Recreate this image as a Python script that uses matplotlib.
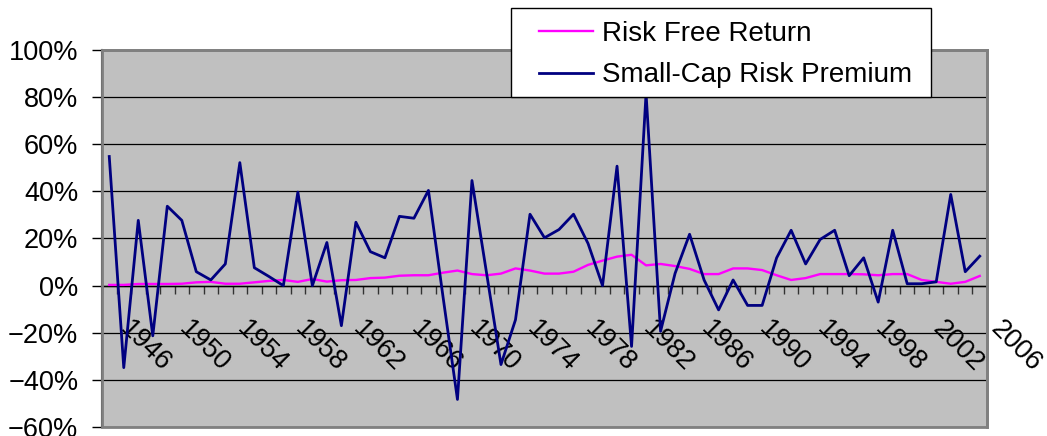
import matplotlib
matplotlib.use("Agg")
import matplotlib.pyplot as plt
from matplotlib.patches import Rectangle
from matplotlib.ticker import PercentFormatter
import numpy as np

plt.rcParams['font.family'] = ['Liberation Sans', 'DejaVu Sans']

years = list(range(1945, 2006))
risk_free = [0.3, 0.3, 0.7, 0.7, 0.7, 0.8, 1.4, 1.6, 0.8, 0.8,
             1.4, 2.0, 2.4, 1.6, 2.8, 1.7, 2.3, 2.4, 3.2, 3.4,
             4.2, 4.4, 4.4, 5.5, 6.4, 4.9, 4.4, 5.1, 7.3, 6.4,
             5.1, 5.1, 5.9, 8.8, 10.6, 12.3, 13.1, 8.6, 9.2, 8.3,
             7.1, 4.9, 4.9, 7.3, 7.3, 6.6, 4.4, 2.4, 3.2, 4.9,
             4.9, 4.9, 4.8, 4.4, 4.9, 4.9, 2.4, 1.6, 0.8, 1.6,
             4.1]
small_cap_premium = [54.8, -34.8, 27.7, -21.3, 33.7, 27.7, 5.9, 2.4, 9.2, 52.2,
                     7.6, 3.9, 0.0, 39.7, 0.0, 18.3, -17.0, 26.9, 14.4, 11.8,
                     29.4, 28.6, 40.4, -4.5, -48.3, 44.6, 5.6, -33.5, -14.5, 30.3,
                     20.3, 23.8, 30.3, 17.9, 0.0, 50.7, -25.8, 81.5, -19.4, 5.2,
                     21.8, 2.4, -10.3, 2.4, -8.4, -8.4, 11.8, 23.5, 9.2, 19.6,
                     23.5, 4.2, 11.8, -7.0, 23.5, 0.8, 0.8, 1.6, 38.7, 5.9,
                     12.5]
label_years = list(range(1946, 2007, 4))
y_ticks = [-60, -40, -20, 0, 20, 40, 60, 80, 100]

W, H = 1047, 436
fig = plt.figure(figsize=(W / 100, H / 100), dpi=100)
ax = fig.add_axes([102 / W, 1 - 427 / H, 885 / W, 377 / H])
ax.set_facecolor('#C0C0C0')

x = np.arange(len(years))
ax.plot(x, risk_free, color='#FF00FF', lw=1.7, label='Risk Free Return', zorder=3)
ax.plot(x, small_cap_premium, color='#000080', lw=2.0, label='Small-Cap Risk Premium', zorder=4)

ax.set_xlim(-0.5, len(years) - 0.5)
ax.set_ylim(-60, 100)
ax.set_yticks(y_ticks)
ax.yaxis.set_major_formatter(PercentFormatter(decimals=0))
ax.tick_params(axis='y', direction='out', length=7, width=1, labelsize=19.5, pad=10, colors='black')
ax.grid(axis='y', color='black', lw=0.9)
ax.set_axisbelow(True)

# category boundary ticks on the zero axis
ax.set_xticks(np.arange(-0.5, len(years) + 0.5, 1.0))
ax.set_xticklabels([])
ax.tick_params(axis='x', direction='out', length=6, width=1, color='#333333')
ax.spines['bottom'].set_position(('data', 0))
ax.spines['bottom'].set_color('black')
ax.spines['bottom'].set_linewidth(1)
for s in ['top', 'right']:
    ax.spines[s].set_color('#808080')
    ax.spines[s].set_linewidth(2)
ax.spines['left'].set_color('black')
ax.spines['left'].set_linewidth(1.5)
ax.add_patch(Rectangle((0, 0), 1, 1, transform=ax.transAxes, fill=False,
                       edgecolor='#808080', lw=2, zorder=5, clip_on=False))

for yr in label_years:
    ax.annotate(str(yr), xy=(yr - years[0], 0), xycoords='data',
                xytext=(7, -22), textcoords='offset points',
                rotation=-45, rotation_mode='anchor', ha='left', va='top',
                fontsize=19.5, annotation_clip=False)

# legend
fig.patches.append(Rectangle((511 / W, 1 - 97 / H), 420 / W, 89 / H, transform=fig.transFigure,
                             facecolor='white', edgecolor='black', lw=1, zorder=4))
leg = fig.legend(loc='upper left', bbox_to_anchor=(539 / W, 1 - 21 / H), frameon=False,
                 fontsize=20, handlelength=1.95, handletextpad=0.3, labelspacing=0.55,
                 borderpad=0, borderaxespad=0)
leg.set_zorder(5)

fig.savefig('out.png', dpi=100)
